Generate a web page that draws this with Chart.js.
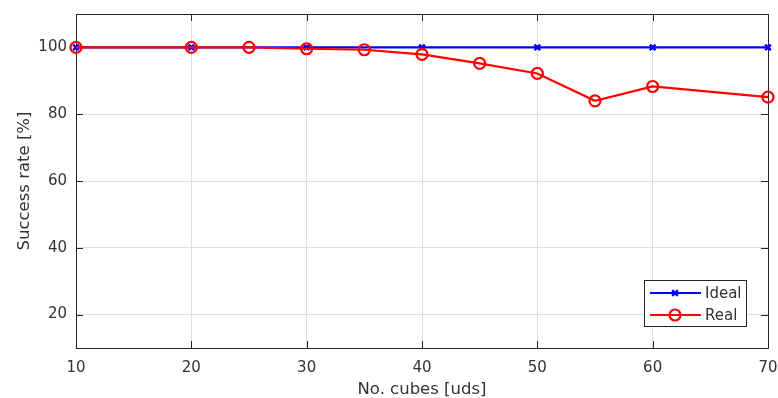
<!DOCTYPE html>
<html>
<head>
<meta charset="utf-8">
<script src="https://cdn.jsdelivr.net/npm/chart.js@4.4.1/dist/chart.umd.min.js"></script>
<style>
  html, body { margin: 0; padding: 0; background: #fff; }
  #wrap { width: 778px; height: 398px; }
</style>
</head>
<body>
<div id="wrap"><canvas id="Line"></canvas></div>
<script>
// Datos
const idealX = [10, 20, 30, 40, 50, 60, 70];
const idealY = [100, 100, 100, 100, 100, 100, 100];
const realX = [10, 20, 25, 30, 35, 40, 45, 50, 55, 60, 70];
const realY = [100, 100, 100, 99.6, 99.3, 97.9, 95.2, 92.2, 84.0, 88.3, 85.1];
const xTicks = [10, 20, 30, 40, 50, 60, 70];
const yTicks = [20, 40, 60, 80, 100];
const xLabel = "No. cubes [uds]";
const yLabel = "Success rate [%]";

const FONT = "DejaVu Sans";
const AXIS_COLOR = "#262626";
const TEXT_COLOR = "#333333";

function toPoints(xs, ys) {
    return xs.map((x, i) => ({ x: x, y: ys[i] }));
}

// Caja de ejes estilo MATLAB con marcas hacia dentro
const boxPlugin = {
    id: "box",
    beforeDatasetsDraw(chart) {
        const ctx = chart.ctx;
        const a = chart.chartArea;
        const sx = chart.scales.x, sy = chart.scales.y;
        ctx.save();
        ctx.strokeStyle = AXIS_COLOR;
        ctx.lineWidth = 1;
        ctx.beginPath();
        xTicks.forEach(v => {
            const px = Math.round(sx.getPixelForValue(v)) + 0.5;
            ctx.moveTo(px, a.bottom); ctx.lineTo(px, a.bottom - 7);
            ctx.moveTo(px, a.top); ctx.lineTo(px, a.top + 7);
        });
        yTicks.forEach(v => {
            const py = Math.round(sy.getPixelForValue(v)) + 0.5;
            ctx.moveTo(a.left, py); ctx.lineTo(a.left + 7, py);
            ctx.moveTo(a.right, py); ctx.lineTo(a.right - 7, py);
        });
        ctx.stroke();
        ctx.strokeRect(Math.round(a.left) + 0.5, Math.round(a.top) + 0.5,
            Math.round(a.right - a.left), Math.round(a.bottom - a.top));
        ctx.restore();
    }
};

// Leyenda dentro del área, abajo a la derecha
const legendPlugin = {
    id: "boxLegend",
    afterDraw(chart) {
        const ctx = chart.ctx;
        const a = chart.chartArea;
        const w = 102, h = 46;
        const x0 = a.right - 22 - w, y0 = a.bottom - 22 - h;
        ctx.save();
        ctx.fillStyle = "#fff";
        ctx.fillRect(x0, y0, w, h);
        ctx.strokeStyle = AXIS_COLOR;
        ctx.lineWidth = 1;
        ctx.strokeRect(Math.round(x0) + 0.5, Math.round(y0) + 0.5, w, h);
        chart.data.datasets.slice().sort((p, q) => p.legendIndex - q.legendIndex).forEach((ds, i) => {
            const cy = y0 + 13 + i * 22;
            ctx.strokeStyle = ds.borderColor;
            ctx.fillStyle = "rgba(0,0,0,0)";
            ctx.lineWidth = ds.borderWidth;
            ctx.beginPath();
            ctx.moveTo(x0 + 6, cy); ctx.lineTo(x0 + 57, cy);
            ctx.stroke();
            ctx.lineWidth = ds.pointBorderWidth;
            Chart.helpers.drawPoint(ctx, {
                pointStyle: ds.pointStyle,
                radius: ds.pointRadius,
                borderWidth: ds.pointBorderWidth
            }, x0 + 31, cy);
            ctx.fillStyle = TEXT_COLOR;
            ctx.font = "15px '" + FONT + "'";
            ctx.textBaseline = "middle";
            ctx.textAlign = "left";
            ctx.fillText(ds.label, x0 + 61, cy + 1);
        });
        ctx.restore();
    }
};

function fnLine() {
    const line = document.querySelector("#Line");

    const ideal = {
        label: "Ideal",
        data: toPoints(idealX, idealY),
        borderColor: "#0000ff",
        backgroundColor: "#0000ff",
        borderWidth: 2.2,
        pointStyle: "crossRot",
        pointRadius: 4,
        pointBorderWidth: 2.5,
        clip: false,
        order: 1,
        legendIndex: 0
    };
    const real = {
        label: "Real",
        data: toPoints(realX, realY),
        borderColor: "#ff0000",
        backgroundColor: "rgba(0,0,0,0)",
        borderWidth: 2.2,
        pointStyle: "circle",
        pointRadius: 5.5,
        pointBorderWidth: 2.2,
        clip: false,
        order: 0,
        legendIndex: 1
    };

    new Chart(line, {
        type: "line",
        data: { datasets: [ideal, real] },
        options: {
            responsive: true,
            maintainAspectRatio: false,
            animation: false,
            events: [],
            layout: { padding: { left: 0, top: 14, right: 10, bottom: 0 } },
            plugins: {
                legend: { display: false },
                tooltip: { enabled: false }
            },
            scales: {
                x: {
                    type: "linear",
                    min: 10,
                    max: 70,
                    afterFit(s) { s.height = 50; s.paddingLeft = 0; s.paddingRight = 0; },
                    afterBuildTicks(s) { s.ticks = xTicks.map(v => ({ value: v })); },
                    grid: { color: "#dedede", drawTicks: false },
                    border: { display: false },
                    ticks: {
                        color: TEXT_COLOR,
                        font: { family: FONT, size: 15 },
                        padding: 11,
                        maxRotation: 0
                    },
                    title: {
                        display: true,
                        text: xLabel,
                        color: TEXT_COLOR,
                        font: { family: FONT, size: 16.5 },
                        padding: { top: 0, bottom: -2 }
                    }
                },
                y: {
                    min: 10,
                    max: 110,
                    afterFit(s) { s.width = 76; s.paddingTop = 0; s.paddingBottom = 0; },
                    afterBuildTicks(s) { s.ticks = yTicks.map(v => ({ value: v })); },
                    grid: { color: "#dedede", drawTicks: false },
                    border: { display: false },
                    ticks: {
                        color: TEXT_COLOR,
                        font: { family: FONT, size: 15 },
                        padding: 9
                    },
                    title: {
                        display: true,
                        text: yLabel,
                        color: TEXT_COLOR,
                        font: { family: FONT, size: 16.5 },
                        padding: { top: 15, bottom: 0 }
                    }
                }
            }
        },
        plugins: [boxPlugin, legendPlugin]
    });
}

fnLine();
</script>
</body>
</html>
